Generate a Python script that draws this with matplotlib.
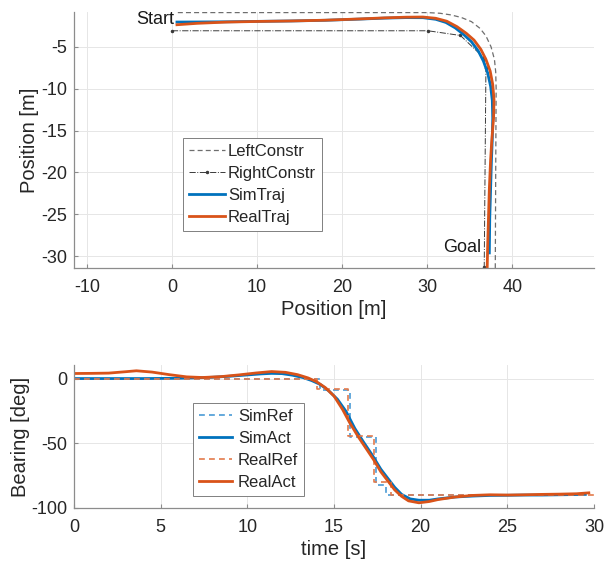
import matplotlib
matplotlib.use("Agg")
import matplotlib.pyplot as plt

plt.rcParams['font.family'] = ['Liberation Sans', 'DejaVu Sans']
plt.rcParams['axes.unicode_minus'] = False

# ---- Path plot data (positions in m) ----
left_x = [0.7, 10, 20, 30, 31.5, 32.8, 34.0, 35.2, 36.2, 36.9, 37.5, 37.9, 38.05, 38.1, 38.05, 38.0]
left_y = [-0.92, -0.92, -0.92, -0.92, -1.0, -1.2, -1.5, -2.0, -2.8, -3.7, -5.0, -6.5, -8.0, -10.0, -20.0, -31.4]

right_x = [0.0, 30.1, 33.9, 36.7, 36.9, 36.7]
right_y = [-3.09, -3.09, -3.65, -6.35, -7.55, -31.3]

sim_x = [0.6, 3, 6.5, 10, 14, 18, 22, 25, 27.5, 29.5, 31, 32.2, 33.3, 34.3, 35.2, 36.0,
         36.6, 37.1, 37.45, 37.65, 37.7, 37.65, 37.55, 37.45, 37.35, 37.3]
sim_y = [-2.05, -2.04, -2.02, -1.97, -1.92, -1.84, -1.70, -1.58, -1.52, -1.53, -1.72, -2.1,
         -2.75, -3.55, -4.4, -5.5, -6.7, -8.1, -9.7, -11.4, -13.5, -16, -18.5, -22, -25.5, -29.6]

real_x = [0.6, 3, 6.5, 10, 14, 18, 22, 25, 27.5, 29.5, 31, 32.3, 33.5, 34.6, 35.5, 36.3,
          36.9, 37.4, 37.7, 37.85, 37.8, 37.6, 37.45, 37.3, 37.2, 37.1, 37.05]
real_y = [-2.37, -2.2, -2.05, -1.98, -1.92, -1.83, -1.68, -1.55, -1.47, -1.45, -1.6, -1.95,
          -2.6, -3.4, -4.2, -5.3, -6.5, -7.9, -9.5, -11.3, -13.5, -16, -18.5, -22, -25.5, -29, -31.4]

pos_xticks = [-10, 0, 10, 20, 30, 40]
pos_yticks = [-30, -25, -20, -15, -10, -5]

# ---- Bearing data (deg) over time (s) ----
simref_t = [0, 14.2, 15.9, 17.4, 18.0, 29.5]
simref_v = [0, -9, -45, -82, -90, -90]
realref_t = [0, 14.0, 15.8, 17.3, 18.3, 30.0]
realref_v = [0, -8, -44, -80, -90, -90]

simact_t = [0, 2, 4, 6, 7, 8, 9, 10, 10.8, 11.4, 12, 12.6, 13.2, 13.7, 14.2, 14.7, 15.2,
            15.7, 16.2, 16.7, 17.2, 17.7, 18.1, 18.5, 18.9, 19.4, 19.9, 20.5, 21, 22, 23,
            24, 25, 26, 27, 28, 29, 29.5]
simact_v = [0, 0, 0, 0.2, 0.5, 1, 1.8, 2.8, 3.6, 4, 3.8, 2.6, 0.8, -1.5, -4.5, -9.5, -16,
            -25.5, -38.5, -49, -59, -70, -77, -84, -89.5, -93, -94, -94, -93, -91.5,
            -90.8, -90.3, -90.2, -90, -90, -89.8, -89.6, -89.5]

realact_t = [0, 1, 2, 3, 3.6, 4.5, 5.5, 6.5, 7.4, 8.5, 9.5, 10.5, 11.4, 12.2, 12.9, 13.5,
             14.0, 14.5, 15.0, 15.5, 15.9, 16.4, 16.9, 17.3, 17.7, 18.1, 18.5, 18.9, 19.3,
             19.9, 20.5, 21, 22, 23, 24, 25, 26, 27, 28, 29, 29.7]
realact_v = [3.9, 4, 4.2, 5.3, 6, 5, 3, 1.3, 0.8, 1.5, 2.8, 4.3, 5.4, 4.8, 3, 0.5, -2.5,
             -7, -13.5, -24, -34, -45, -55, -63, -72, -79, -86, -91, -94.5, -96, -95,
             -93.5, -91.5, -90.3, -89.8, -90, -89.8, -89.5, -89.3, -89, -88.3]

time_ticks = [0, 5, 10, 15, 20, 25, 30]
bearing_ticks = [-100, -50, 0]

BLUE = '#0072BD'
ORANGE = '#D95319'
SPINE = '#8c8c8c'
TEXT = '#262626'
GRID = '#e6e6e6'


def style_axes(ax):
    for side in ('top', 'right'):
        ax.spines[side].set_visible(False)
    for side in ('left', 'bottom'):
        ax.spines[side].set_color(SPINE)
        ax.spines[side].set_linewidth(0.9)
    ax.tick_params(direction='in', length=3, width=0.8, color=SPINE,
                   labelsize=13, labelcolor=TEXT)
    ax.tick_params(axis='x', pad=8)
    ax.tick_params(axis='y', pad=5)
    ax.grid(True, color=GRID, linewidth=0.7)
    ax.set_axisbelow(True)


def style_legend(leg):
    leg.get_frame().set_edgecolor('#808080')
    leg.get_frame().set_linewidth(0.7)
    for t in leg.get_texts():
        t.set_color(TEXT)


fig = plt.figure(figsize=(6.12, 5.66), dpi=100)

# ---- Top: path ----
ax1 = fig.add_axes([0.1209, 0.5265, 0.8497, 0.4523])
style_axes(ax1)
ax1.plot(left_x, left_y, linestyle=(0, (4, 2.5)), color='#6e6e6e', lw=0.9, label='LeftConstr')
ax1.plot(right_x, right_y, linestyle='-.', color='#3a3a3a', lw=0.7, marker='.',
         markersize=3, label='RightConstr')
ax1.plot(sim_x, sim_y, color=BLUE, lw=2.0, label='SimTraj')
ax1.plot(real_x, real_y, color=ORANGE, lw=2.0, label='RealTraj')
ax1.set_xlim(-11.5, 49.6)
ax1.set_ylim(-31.4, -0.85)
ax1.set_xticks(pos_xticks)
ax1.set_yticks(pos_yticks)
ax1.set_xlabel('Position [m]', fontsize=14.5, color=TEXT, labelpad=3)
ax1.set_ylabel('Position [m]', fontsize=14.5, color=TEXT)
ax1.yaxis.set_label_coords(-0.068, 0.5)
ax1.text(0.25, -1.8, 'Start', ha='right', va='center', fontsize=13, color='#1a1a1a')
ax1.text(36.3, -29.0, 'Goal', ha='right', va='center', fontsize=13, color='#1a1a1a')
leg1 = ax1.legend(loc='upper left', bbox_to_anchor=(0.2096, 0.508), fontsize=12,
                  handlelength=2.15, handletextpad=0.2, labelspacing=0.42,
                  borderpad=0.35, borderaxespad=0, fancybox=False, framealpha=1)
style_legend(leg1)

# ---- Bottom: bearing ----
ax2 = fig.add_axes([0.1209, 0.1025, 0.8497, 0.2527])
style_axes(ax2)
ax2.plot(simref_t, simref_v, drawstyle='steps-post', linestyle=(0, (3.5, 2.5)),
         color='#4a9bd6', lw=1.2, label='SimRef')
ax2.plot(simact_t, simact_v, color=BLUE, lw=2.0, label='SimAct')
ax2.plot(realref_t, realref_v, drawstyle='steps-post', linestyle=(0, (3.5, 2.5)),
         color='#e37a4c', lw=1.2, label='RealRef')
ax2.plot(realact_t, realact_v, color=ORANGE, lw=2.0, label='RealAct')
ax2.set_xlim(0, 30)
ax2.set_ylim(-100, 10.5)
ax2.set_xticks(time_ticks)
ax2.set_yticks(bearing_ticks)
ax2.set_xlabel('time [s]', fontsize=14.5, color=TEXT, labelpad=3)
ax2.set_ylabel('Bearing [deg]', fontsize=14.5, color=TEXT)
ax2.yaxis.set_label_coords(-0.084, 0.5)
leg2 = ax2.legend(loc='upper left', bbox_to_anchor=(0.229, 0.734), fontsize=12,
                  handlelength=2.0, handletextpad=0.35, labelspacing=0.42,
                  borderpad=0.35, borderaxespad=0, fancybox=False, framealpha=1)
style_legend(leg2)

fig.savefig('out.png', dpi=100)
